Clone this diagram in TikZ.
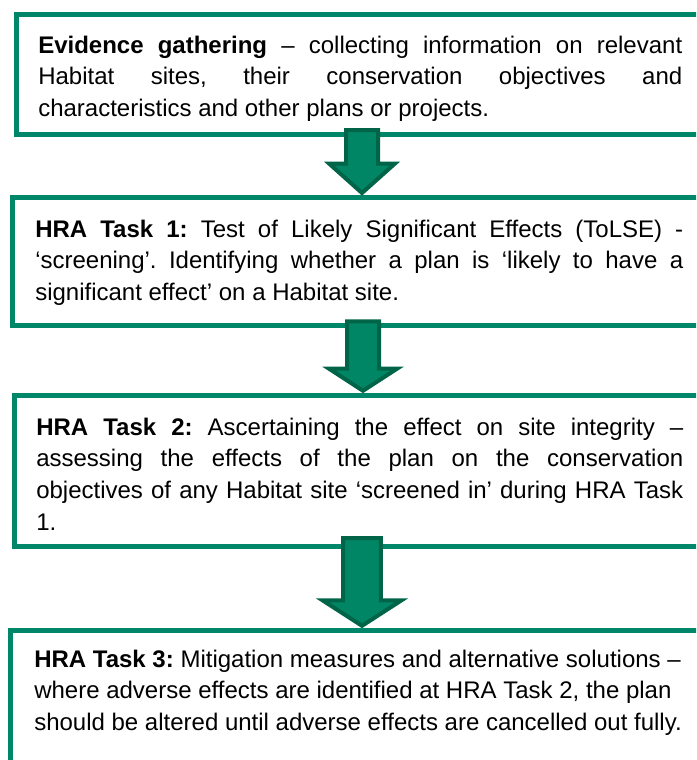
\documentclass[tikz,border=0pt]{standalone}
\usepackage{fontspec}
\setmainfont{Liberation Sans}
\usetikzlibrary{calc}
\definecolor{boxgreen}{RGB}{0,134,104}
\definecolor{arrowfill}{RGB}{0,134,100}
\definecolor{arrowline}{RGB}{0,100,72}
\tikzset{
  frame/.style={draw=boxgreen, line width=3.75pt},
  flow/.style={draw=arrowline, fill=arrowfill, line width=3pt, line join=miter},
  txt/.style={anchor=base west, inner sep=0pt, font=\fontsize{18pt}{23.8pt}\selectfont},
}
% one justified line of a box, and one plain line
\newcommand\fl[1]{\hbox to\hsize{\frenchspacing\spaceskip=0pt\xspaceskip=0pt #1}}
\newcommand\nl[1]{\hbox{\frenchspacing\spaceskip=0pt\xspaceskip=0pt #1}}
% block arrow: start, tip, half shaft, half head, head length
\newcommand\flowarrow[5]{%
  \draw[flow] ($(#1)+(-#3,0)$) -- ($(#1)+(#3,0)$) -- ($(#2)+(#3,-#5)$)
    -- ($(#2)+(#4,-#5)$) -- (#2) -- ($(#2)+(-#4,-#5)$) -- ($(#2)+(-#3,-#5)$) -- cycle;}
\begin{document}
\begin{tikzpicture}[x=0.75pt, y=-0.75pt]
  \useasboundingbox (0,0) rectangle (696,760);
  \clip (0,0) rectangle (696,760);
  % frames
  \coordinate (ev nw) at (16,14.5);   \coordinate (ev se) at (730,134);
  \coordinate (t1 nw) at (12,197.5);  \coordinate (t1 se) at (730,325);
  \coordinate (t2 nw) at (14,395.5);  \coordinate (t2 se) at (730,546.5);
  \coordinate (t3 nw) at (10.5,630.5); \coordinate (t3 se) at (730,800);
  \draw[frame] (ev nw) rectangle (ev se);
  \draw[frame] (t1 nw) rectangle (t1 se);
  \draw[frame] (t2 nw) rectangle (t2 se);
  \draw[frame] (t3 nw) rectangle (t3 se);
  % arrows
  \coordinate (a1 top) at (362,130);   \coordinate (a1 tip) at (362,193);
  \coordinate (a2 top) at (363,321.3); \coordinate (a2 tip) at (363,390.8);
  \coordinate (a3 top) at (362,538);   \coordinate (a3 tip) at (362,625.8);
  \flowarrow{a1 top}{a1 tip}{16}{33}{29.5}
  \flowarrow{a2 top}{a2 tip}{16}{34}{22.1}
  \flowarrow{a3 top}{a3 tip}{18.8}{39.5}{25.5}
  % texts
  \node[txt, text width=483pt] (ev) at (38,53) {%
    \fl{\textbf{Evidence gathering} – collecting information on relevant}
    \fl{Habitat sites, their conservation objectives and}
    \nl{characteristics and other plans or projects.}};
  \node[txt, text width=486pt] (t1) at (35,237) {%
    \fl{\textbf{HRA Task 1:} Test of Likely Significant Effects (ToLSE) -}
    \fl{‘screening’. Identifying whether a plan is ‘likely to have a}
    \nl{significant effect’ on a Habitat site.}};
  \node[txt, text width=485.25pt] (t2) at (36,435) {%
    \fl{\textbf{HRA Task 2:} Ascertaining the effect on site integrity –}
    \fl{assessing the effects of the plan on the conservation}
    \fl{objectives of any Habitat site ‘screened in’ during HRA Task}
    \nl{1.}};
  \node[txt, text width=495pt] (t3) at (34,667) {%
    \nl{\textbf{HRA Task 3:} Mitigation measures and alternative solutions –}
    \nl{where adverse effects are identified at HRA Task 2, the plan}
    \nl{should be altered until adverse effects are cancelled out fully.}};
\end{tikzpicture}
\end{document}
